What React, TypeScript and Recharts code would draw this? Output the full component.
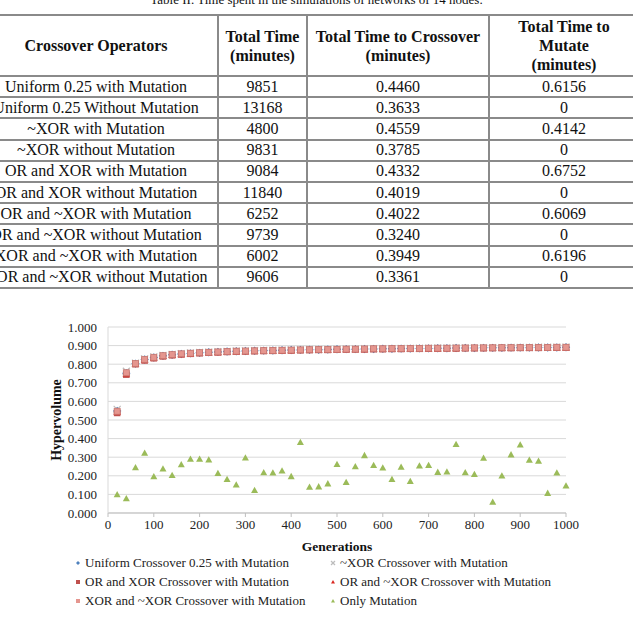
import React from 'react';
import { ScatterChart, Scatter, XAxis, YAxis, CartesianGrid } from 'recharts';

const tableCaption = 'Table II. Time spent in the simulations of networks of 14 nodes.';
const tableHeaders = [
  ['Crossover Operators'],
  ['Total Time', '(minutes)'],
  ['Total Time to Crossover', '(minutes)'],
  ['Total Time to', 'Mutate', '(minutes)'],
];
const operators = [
  'Uniform 0.25 with Mutation',
  'Uniform 0.25 Without Mutation',
  '~XOR with Mutation',
  '~XOR without Mutation',
  'OR and XOR with Mutation',
  'OR and XOR without Mutation',
  'OR and ~XOR with Mutation',
  'OR and ~XOR without Mutation',
  'XOR and ~XOR with Mutation',
  'XOR and ~XOR without Mutation',
];
const totalTime = ['9851', '13168', '4800', '9831', '9084', '11840', '6252', '9739', '6002', '9606'];
const timeToCrossover = ['0.4460', '0.3633', '0.4559', '0.3785', '0.4332', '0.4019', '0.4022', '0.3240', '0.3949', '0.3361'];
const timeToMutate = ['0.6156', '0', '0.4142', '0', '0.6752', '0', '0.6069', '0', '0.6196', '0'];

const generations = [
  20, 40, 60, 80, 100, 120, 140, 160, 180, 200, 220, 240, 260, 280, 300, 320, 340, 360, 380, 400,
  420, 440, 460, 480, 500, 520, 540, 560, 580, 600, 620, 640, 660, 680, 700, 720, 740, 760, 780, 800,
  820, 840, 860, 880, 900, 920, 940, 960, 980, 1000,
];

const uniformMut = [
  0.549, 0.752, 0.803, 0.825, 0.836, 0.845, 0.851, 0.855, 0.858, 0.861, 0.864, 0.866, 0.868, 0.870, 0.871, 0.872, 0.873, 0.874, 0.875, 0.876,
  0.877, 0.878, 0.878, 0.879, 0.880, 0.881, 0.881, 0.882, 0.882, 0.883, 0.883, 0.884, 0.884, 0.885, 0.885, 0.886, 0.886, 0.887, 0.887, 0.887,
  0.888, 0.888, 0.888, 0.889, 0.889, 0.889, 0.890, 0.890, 0.890, 0.891,
];
const xnorMut = [
  0.557, 0.762, 0.806, 0.829, 0.839, 0.847, 0.853, 0.857, 0.860, 0.863, 0.865, 0.867, 0.869, 0.871, 0.872, 0.873, 0.874, 0.875, 0.876, 0.877,
  0.878, 0.879, 0.879, 0.880, 0.881, 0.882, 0.882, 0.883, 0.883, 0.884, 0.884, 0.885, 0.885, 0.886, 0.886, 0.887, 0.887, 0.888, 0.888, 0.888,
  0.889, 0.889, 0.889, 0.890, 0.890, 0.890, 0.891, 0.891, 0.891, 0.892,
];
const orXorMut = [
  0.538, 0.744, 0.800, 0.820, 0.832, 0.842, 0.848, 0.853, 0.856, 0.859, 0.862, 0.864, 0.866, 0.868, 0.869, 0.870, 0.871, 0.872, 0.873, 0.874,
  0.875, 0.876, 0.877, 0.877, 0.878, 0.879, 0.880, 0.880, 0.881, 0.881, 0.882, 0.882, 0.883, 0.883, 0.884, 0.884, 0.885, 0.885, 0.886, 0.886,
  0.886, 0.887, 0.887, 0.887, 0.888, 0.888, 0.888, 0.889, 0.889, 0.889,
];
const orXnorMut = [
  0.545, 0.750, 0.802, 0.823, 0.835, 0.844, 0.850, 0.854, 0.857, 0.860, 0.863, 0.865, 0.867, 0.869, 0.870, 0.871, 0.872, 0.873, 0.874, 0.875,
  0.876, 0.877, 0.878, 0.878, 0.879, 0.880, 0.881, 0.881, 0.882, 0.882, 0.883, 0.883, 0.884, 0.884, 0.885, 0.885, 0.886, 0.886, 0.887, 0.887,
  0.887, 0.888, 0.888, 0.888, 0.889, 0.889, 0.889, 0.890, 0.890, 0.890,
];
const xorXnorMut = [
  0.547, 0.754, 0.804, 0.826, 0.837, 0.846, 0.852, 0.856, 0.859, 0.862, 0.864, 0.866, 0.868, 0.870, 0.871, 0.872, 0.873, 0.874, 0.875, 0.876,
  0.877, 0.878, 0.879, 0.879, 0.880, 0.881, 0.881, 0.882, 0.883, 0.883, 0.884, 0.884, 0.885, 0.885, 0.886, 0.886, 0.886, 0.887, 0.887, 0.888,
  0.888, 0.888, 0.889, 0.889, 0.889, 0.890, 0.890, 0.890, 0.891, 0.891,
];
const onlyMut = [
  0.100, 0.078, 0.245, 0.323, 0.196, 0.238, 0.203, 0.261, 0.290, 0.290, 0.286, 0.214, 0.182, 0.152, 0.297, 0.122, 0.218, 0.216, 0.227, 0.197,
  0.380, 0.140, 0.142, 0.158, 0.262, 0.165, 0.250, 0.310, 0.257, 0.243, 0.182, 0.247, 0.171, 0.254, 0.257, 0.220, 0.222, 0.370, 0.218, 0.209,
  0.296, 0.059, 0.200, 0.314, 0.367, 0.285, 0.280, 0.107, 0.216, 0.147,
];

const xTicks = [0, 100, 200, 300, 400, 500, 600, 700, 800, 900, 1000];
const yTicks = [0, 0.1, 0.2, 0.3, 0.4, 0.5, 0.6, 0.7, 0.8, 0.9, 1];

const serif = '"Liberation Serif", "Times New Roman", serif';

// marker shapes, Excel style
const mkShape = (kind: string, color: string, s: number, edge?: string) => (props: any) => {
  const { cx, cy } = props;
  if (cx == null || cy == null) return <g />;
  if (kind === 'diamond') {
    return <polygon points={`${cx},${cy - s} ${cx + s},${cy} ${cx},${cy + s} ${cx - s},${cy}`} fill={color} />;
  }
  if (kind === 'x') {
    return (
      <g stroke={color} strokeWidth={1.2}>
        <line x1={cx - s} y1={cy - s} x2={cx + s} y2={cy + s} />
        <line x1={cx - s} y1={cy + s} x2={cx + s} y2={cy - s} />
      </g>
    );
  }
  if (kind === 'square') {
    return <rect x={cx - s} y={cy - s} width={s * 2} height={s * 2} fill={color} stroke={edge || 'none'} strokeWidth={0.8} />;
  }
  return <polygon points={`${cx},${cy - s} ${cx + s},${cy + s * 0.8} ${cx - s},${cy + s * 0.8}`} fill={color} />;
};

const series = [
  { name: 'Uniform Crossover 0.25 with Mutation', values: uniformMut, kind: 'diamond', color: '#4F81BD', size: 4.2 },
  { name: '~XOR Crossover with Mutation', values: xnorMut, kind: 'x', color: '#BDBDBD', size: 3.5 },
  { name: 'OR and XOR Crossover with Mutation', values: orXorMut, kind: 'square', color: '#C0504D', size: 3.3 },
  { name: 'OR and ~XOR Crossover with Mutation', values: orXnorMut, kind: 'triangle', color: '#D9261F', size: 3.8 },
  { name: 'XOR and ~XOR Crossover with Mutation', values: xorXnorMut, kind: 'square', color: '#E5968F', size: 3, edge: '#C77A74' },
  { name: 'Only Mutation', values: onlyMut, kind: 'triangle', color: '#9BBB59', size: 3.5 },
];

const cell = (extra: any = {}) => ({
  border: '2px solid #8a8a8a',
  textAlign: 'center' as const,
  padding: 0,
  ...extra,
});

const colW = [244, 89, 182, 150];

export default function App() {
  return (
    <div style={{ position: 'absolute', left: 0, top: 0, width: 633, height: 625, overflow: 'hidden', background: '#fff', fontFamily: serif, color: '#111' }}>
      <div style={{ position: 'absolute', top: -8, left: 0, width: 633, textAlign: 'center', fontSize: 13 }}>{tableCaption}</div>
      <table style={{ position: 'absolute', left: -27, top: 14, width: colW.reduce((a, b) => a + b, 0), borderCollapse: 'collapse', fontSize: 16, tableLayout: 'fixed' }}>
        <colgroup>
          {colW.map((w, i) => <col key={i} style={{ width: w }} />)}
        </colgroup>
        <thead>
          <tr style={{ height: 61 }}>
            {tableHeaders.map((h, i) => (
              <th key={i} style={cell({ lineHeight: '19px', fontWeight: 'bold', whiteSpace: 'nowrap' })}>
                {h.map((l, j) => <div key={j}>{l}</div>)}
              </th>
            ))}
          </tr>
        </thead>
        <tbody>
          {operators.map((op, i) => (
            <tr key={op} style={{ height: 21.2 }}>
              <td style={cell({ whiteSpace: 'nowrap', overflow: 'visible' })}>{op}</td>
              <td style={cell()}>{totalTime[i]}</td>
              <td style={cell()}>{timeToCrossover[i]}</td>
              <td style={cell()}>{timeToMutate[i]}</td>
            </tr>
          ))}
        </tbody>
      </table>

      <div style={{ position: 'absolute', left: 0, top: 300 }}>
        <ScatterChart width={633} height={253} margin={{ top: 27, right: 67, bottom: 0, left: 0 }}>
          <CartesianGrid vertical={false} stroke="#D9D9D9" strokeWidth={1} />
          <XAxis
            type="number"
            dataKey="x"
            domain={[0, 1000]}
            ticks={xTicks}
            interval={0}
            height={40}
            stroke="#BFBFBF"
            tickSize={4}
            tickMargin={3}
            tick={{ fill: '#222', fontSize: 13, fontFamily: serif }}
            label={{ value: 'Generations', position: 'insideBottom', offset: 2, style: { fill: '#111', fontSize: 13.5, fontWeight: 'bold', fontFamily: serif } }}
          />
          <YAxis
            type="number"
            dataKey="y"
            domain={[0, 1]}
            ticks={yTicks}
            interval={0}
            width={108}
            stroke="#D9D9D9"
            tickLine={false}
            tickMargin={5}
            tickFormatter={(v: number) => v.toFixed(3)}
            tick={{ fill: '#222', fontSize: 13, fontFamily: serif }}
            label={{ value: 'Hypervolume', angle: -90, position: 'center', dx: 2, style: { fill: '#111', fontSize: 14, fontWeight: 'bold', fontFamily: serif } }}
          />
          {series.map((s) => (
            <Scatter
              key={s.name}
              name={s.name}
              data={generations.map((g, i) => ({ x: g, y: s.values[i] }))}
              shape={mkShape(s.kind, s.color, s.size, (s as any).edge)}
              isAnimationActive={false}
            />
          ))}
        </ScatterChart>
      </div>

      <div style={{ position: 'absolute', left: 0, top: 554, width: 633, fontSize: 13 }}>
        {series.map((s, k) => {
          const col = k % 2;
          const row = Math.floor(k / 2);
          return (
            <div key={s.name} style={{ position: 'absolute', left: col === 0 ? 74 : 329, top: row * 19, height: 18, display: 'flex', alignItems: 'center', whiteSpace: 'nowrap', color: '#222' }}>
              <svg width={8} height={8} style={{ marginRight: 3 }}>
                {mkShape(s.kind, s.color, 2)({ cx: 4, cy: 4 })}
              </svg>
              {s.name}
            </div>
          );
        })}
      </div>
    </div>
  );
}
